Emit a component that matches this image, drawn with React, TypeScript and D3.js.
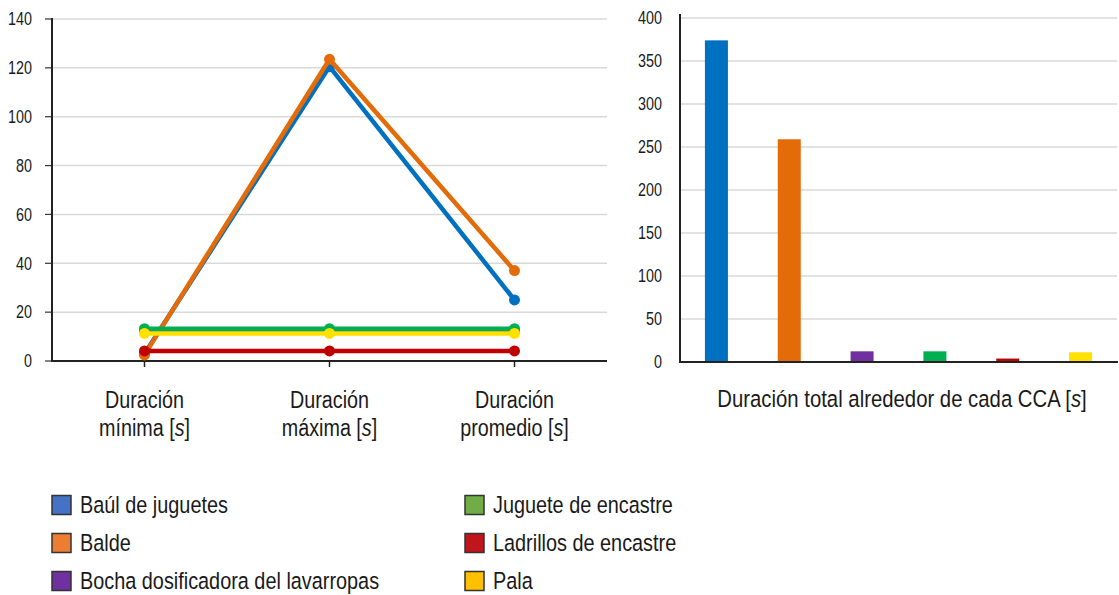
import React from "react";
import * as d3 from "d3";

const categories = ["Duración mínima", "Duración máxima", "Duración promedio"];
const catLine1 = ["Duración", "Duración", "Duración"];
const catLine2 = ["mínima", "máxima", "promedio"];
const seriesNames = [
  "Baúl de juguetes",
  "Balde",
  "Bocha dosificadora del lavarropas",
  "Juguete de encastre",
  "Ladrillos de encastre",
  "Pala",
];
const baulValues = [3, 120.5, 25];
const baldeValues = [2.5, 123.5, 37];
const bochaValues = [12.4, 12.4, 12.4];
const jugueteValues = [13.2, 13.2, 13.2];
const ladrillosValues = [4.1, 4.1, 4.1];
const palaValues = [11.3, 11.3, 11.3];
const totalValues = [374, 259, 12.4, 12.4, 4, 11.3];
const leftTicks = [0, 20, 40, 60, 80, 100, 120, 140];
const rightTicks = [0, 50, 100, 150, 200, 250, 300, 350, 400];

const lineColors = ["#0070C0", "#E36C09", "#7030A0", "#00B050", "#C00000", "#FFE100"];
const legendColors = ["#4472C4", "#ED7D31", "#7030A0", "#70AD47", "#C0161B", "#FFC000"];
const drawOrder = [0, 1, 2, 3, 4, 5];

const FONT = "'Liberation Sans', Arial, sans-serif";

function NText(props: {
  x: number;
  y: number;
  size: number;
  sx?: number;
  anchor?: "start" | "middle" | "end";
  dy?: string;
  children: React.ReactNode;
}) {
  return (
    <g transform={`translate(${props.x},${props.y}) scale(${props.sx ?? 0.84},1)`}>
      <text x={0} y={0} dy={props.dy} textAnchor={props.anchor || "start"} fontSize={props.size} fill="#1a1a1a">
        {props.children}
      </text>
    </g>
  );
}

export default function App() {
  const W = 1119;
  const H = 595;
  const lineSeries = [baulValues, baldeValues, bochaValues, jugueteValues, ladrillosValues, palaValues];

  const xL = d3.scaleBand<string>().domain(categories).range([52, 607]).padding(0);
  const yL = d3.scaleLinear().domain([0, 140]).range([361, 19]);
  const xR = d3.scaleBand<string>().domain(seriesNames).range([680, 1117]).paddingInner(0.684).paddingOuter(0.342);
  const yR = d3.scaleLinear().domain([0, 400]).range([362, 18]);

  const cxOf = (i: number) => (xL(categories[i]) as number) + xL.bandwidth() / 2;
  const lineGen = d3
    .line<number>()
    .x((_, i) => cxOf(i))
    .y((v) => yL(v));

  return (
    <svg width={W} height={H} style={{ position: "absolute", left: 0, top: 0, background: "#fff" }} fontFamily={FONT}>
      <rect x={0} y={0} width={W} height={H} fill="#fff" />
      {/* Left chart gridlines */}
      {leftTicks.map((t) => (
        <g key={"lg" + t}>
          {t > 0 && <line x1={52} x2={607} y1={yL(t)} y2={yL(t)} stroke="#D9D9D9" strokeWidth={1.5} />}
          <line x1={45} x2={52} y1={yL(t)} y2={yL(t)} stroke="#333" strokeWidth={1.2} />
          <NText x={32} y={yL(t)} dy="0.36em" anchor="end" size={17.5} sx={0.82}>
            {t}
          </NText>
        </g>
      ))}
      <line x1={52} x2={52} y1={18} y2={362} stroke="#222" strokeWidth={2} />
      <line x1={51} x2={607} y1={361} y2={361} stroke="#222" strokeWidth={2} />
      {categories.map((c, i) => {
        const cx = cxOf(i);
        return (
          <g key={"cat" + i}>
            <line x1={cx} x2={cx} y1={361} y2={367} stroke="#222" strokeWidth={1.5} />
            <NText x={cx} y={408} anchor="middle" size={23.5}>
              {catLine1[i]}
            </NText>
            <NText x={cx} y={436} anchor="middle" size={23.5}>
              {catLine2[i]} [<tspan fontStyle="italic">s</tspan>]
            </NText>
          </g>
        );
      })}
      {drawOrder.map((si) => (
        <g key={"ser" + si}>
          <path d={lineGen(lineSeries[si]) || ""} fill="none" stroke={lineColors[si]} strokeWidth={4.5} strokeLinejoin="round" />
          {lineSeries[si].map((v, i) => (
            <circle key={i} cx={cxOf(i)} cy={yL(v)} r={5.5} fill={lineColors[si]} />
          ))}
        </g>
      ))}

      {/* Right chart */}
      {rightTicks.map((t) => (
        <g key={"rg" + t}>
          {t > 0 && <line x1={680} x2={1117} y1={yR(t)} y2={yR(t)} stroke="#D9D9D9" strokeWidth={1.5} />}
          <NText x={662} y={yR(t)} dy="0.36em" anchor="end" size={17.5} sx={0.82}>
            {t}
          </NText>
        </g>
      ))}
      {seriesNames.map((s, i) => (
        <rect
          key={"bar" + i}
          x={xR(s) as number}
          y={yR(totalValues[i])}
          width={xR.bandwidth()}
          height={yR(0) - yR(totalValues[i])}
          fill={lineColors[i]}
        />
      ))}
      <line x1={680} x2={680} y1={14} y2={363} stroke="#222" strokeWidth={2} />
      <line x1={679} x2={1118} y1={362} y2={362} stroke="#222" strokeWidth={2} />
      <NText x={902} y={407} anchor="middle" size={23.5} sx={0.865}>
        Duración total alrededor de cada CCA [<tspan fontStyle="italic">s</tspan>]
      </NText>

      {/* Legend */}
      {seriesNames.map((s, i) => {
        const col = i < 3 ? 0 : 1;
        const row = i % 3;
        const x0 = col === 0 ? 52 : 465;
        const cy = 505 + row * 38;
        return (
          <g key={"leg" + i}>
            <rect x={x0} y={cy - 9.5} width={19} height={19} fill={legendColors[i]} stroke="#333" strokeWidth={1.5} />
            <NText x={x0 + 28} y={cy} dy="0.36em" size={23.5} sx={0.845}>
              {s}
            </NText>
          </g>
        );
      })}
    </svg>
  );
}
